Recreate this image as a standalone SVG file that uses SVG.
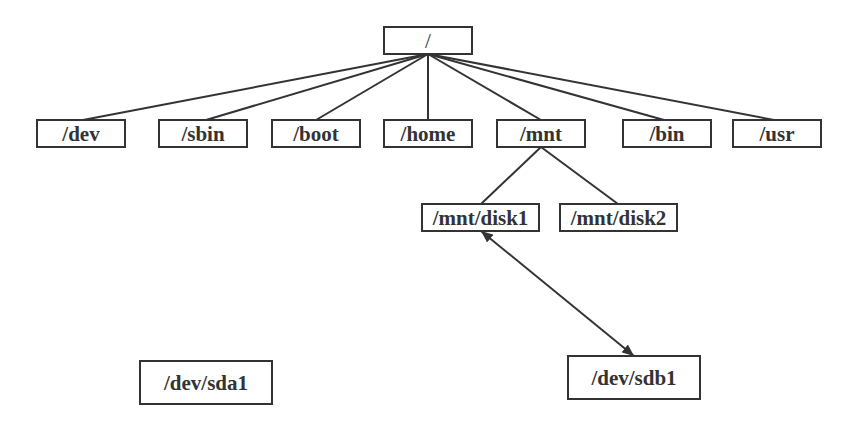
<svg xmlns="http://www.w3.org/2000/svg" width="858" height="446" viewBox="0 0 858 446">
<style>
.n rect{fill:#fff;stroke:#333;stroke-width:2}
.n text{font-family:'Liberation Serif','Times New Roman',serif;font-weight:bold;font-size:21px;fill:#333;text-anchor:middle}
.c line{stroke:#333;stroke-width:2}
</style>
<defs>
<marker id="a" viewBox="0 0 12 10" refX="12" refY="5" markerWidth="12" markerHeight="10" orient="auto-start-reverse" markerUnits="userSpaceOnUse"><path d="M0,0L12,5L0,10z" fill="#333"/></marker>
</defs>
<rect width="858" height="446" fill="#fff"/>
<g id="connectors" class="c">
<line x1="428" y1="54" x2="83" y2="120"/>
<line x1="428" y1="54" x2="206" y2="120"/>
<line x1="428" y1="54" x2="316" y2="120"/>
<line x1="428" y1="54" x2="428" y2="120"/>
<line x1="428" y1="54" x2="541" y2="120"/>
<line x1="428" y1="54" x2="664" y2="120"/>
<line x1="428" y1="54" x2="774" y2="120"/>
<line x1="541" y1="147" x2="481" y2="204"/>
<line x1="541" y1="147" x2="618" y2="204"/>
<line x1="481" y1="231" x2="634" y2="356" marker-start="url(#a)" marker-end="url(#a)"/>
</g>
<g id="root" class="n"><rect x="384" y="27" width="88" height="27"/><text x="428" y="48" font-family="Liberation Serif, serif" style="font-weight:normal">/</text></g>
<g id="dev" class="n"><rect x="37" y="120" width="88" height="27"/><text x="81" y="141" font-family="Liberation Serif, serif">/dev</text></g>
<g id="sbin" class="n"><rect x="159" y="120" width="88" height="27"/><text x="203" y="141" font-family="Liberation Serif, serif">/sbin</text></g>
<g id="boot" class="n"><rect x="272" y="120" width="88" height="27"/><text x="316" y="141" font-family="Liberation Serif, serif">/boot</text></g>
<g id="home" class="n"><rect x="384" y="120" width="88" height="27"/><text x="428" y="141" font-family="Liberation Serif, serif">/home</text></g>
<g id="mnt" class="n"><rect x="497" y="120" width="88" height="27"/><text x="541" y="141" font-family="Liberation Serif, serif">/mnt</text></g>
<g id="bin" class="n"><rect x="623" y="120" width="88" height="27"/><text x="667" y="141" font-family="Liberation Serif, serif">/bin</text></g>
<g id="usr" class="n"><rect x="733" y="120" width="88" height="27"/><text x="777" y="141" font-family="Liberation Serif, serif">/usr</text></g>
<g id="disk1" class="n"><rect x="422" y="204" width="117" height="27"/><text x="480.5" y="225" font-family="Liberation Serif, serif">/mnt/disk1</text></g>
<g id="disk2" class="n"><rect x="560" y="204" width="117" height="27"/><text x="618.5" y="225" font-family="Liberation Serif, serif">/mnt/disk2</text></g>
<g id="sda1" class="n"><rect x="140" y="361" width="132" height="43"/><text x="206" y="390" font-family="Liberation Serif, serif">/dev/sda1</text></g>
<g id="sdb1" class="n"><rect x="568" y="356" width="132" height="43"/><text x="634" y="385" font-family="Liberation Serif, serif">/dev/sdb1</text></g>
</svg>
